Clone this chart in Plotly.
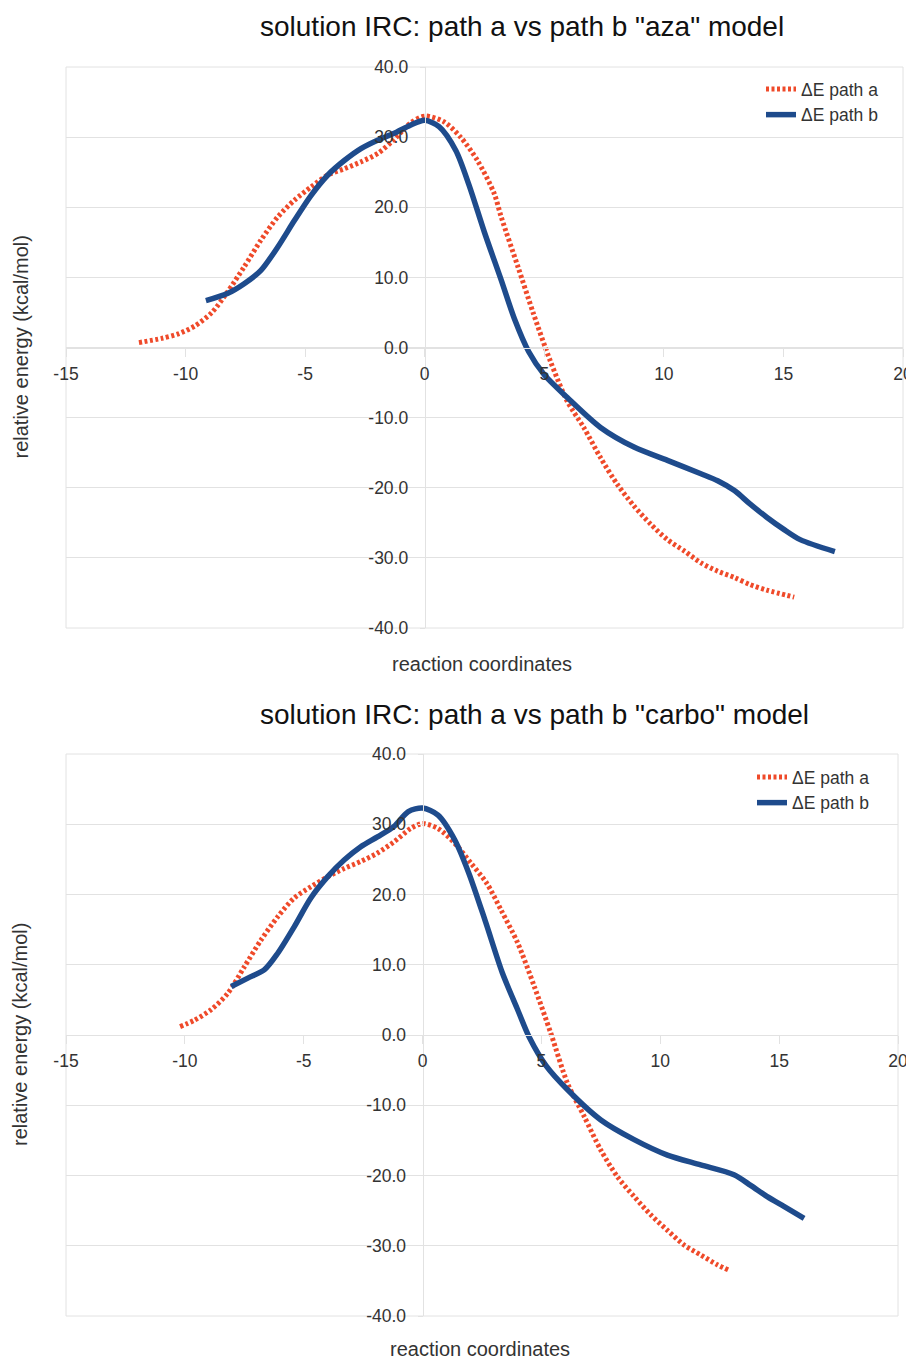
import plotly.graph_objects as go

# ---------------- data ----------------
aza_a_x = [-11.95, -11.0, -10.3, -9.6, -8.9, -8.25, -7.55, -6.85, -6.15, -5.45, -4.75, -4.05, -3.35,
           -2.65, -1.95, -1.3, -0.6, 0.0, 0.8, 1.5, 2.2, 2.9, 3.2, 3.9, 4.55, 5.25, 5.95, 6.65, 7.35,
           8.05, 8.75, 9.45, 10.15, 10.85, 11.55, 12.25, 12.95, 13.6, 14.3, 15.45]
aza_a_y = [0.7, 1.3, 1.95, 3.1, 5.0, 7.9, 11.5, 15.3, 18.6, 21.0, 22.9, 24.6, 25.5,
           26.5, 27.7, 29.6, 32.0, 33.0, 32.2, 30.0, 26.7, 22.0, 18.6, 11.5, 4.8, -1.9, -7.6, -11.4, -15.7,
           -19.5, -22.6, -25.2, -27.4, -29.0, -30.7, -31.9, -32.8, -33.8, -34.6, -35.6]

aza_b_x = [-9.15, -8.25, -7.55, -6.85, -6.15, -5.45, -4.75, -4.05, -3.35, -2.65, -1.95, -1.3, -0.6,
           0.0, 0.6, 1.3, 1.85, 2.5, 3.2, 3.75, 4.35, 5.0, 5.95, 7.35, 8.75, 10.15, 11.55, 12.25,
           12.95, 13.6, 14.3, 15.0, 15.7, 17.15]
aza_b_y = [6.7, 7.7, 9.1, 11.0, 14.3, 18.1, 21.7, 24.6, 26.7, 28.4, 29.6, 30.5, 31.7,
           32.4, 31.5, 28.1, 23.2, 16.4, 9.6, 4.1, -0.6, -3.9, -7.1, -11.4, -14.2, -16.1, -18.0, -19.0,
           -20.4, -22.3, -24.2, -25.9, -27.4, -29.1]

carbo_a_x = [-10.2, -9.6, -8.9, -8.2, -7.5, -6.8, -6.1, -5.4, -4.7, -4.0, -3.3, -2.6, -1.9, -1.2,
             -0.5, 0.0, 0.65, 1.35, 2.05, 2.7, 3.3, 4.0, 4.7, 5.4, 6.1, 6.8, 7.5, 8.2, 8.9, 9.6,
             10.3, 11.0, 11.7, 12.4, 12.9]
carbo_a_y = [1.2, 2.1, 3.6, 5.9, 9.7, 13.5, 16.8, 19.5, 21.1, 22.5, 23.7, 24.7, 25.9, 27.5,
             29.4, 30.1, 29.4, 27.3, 24.4, 21.6, 17.8, 13.1, 6.9, 0.2, -6.9, -11.6, -16.4, -20.2, -23.0, -25.6,
             -27.8, -29.9, -31.3, -32.7, -33.5]

carbo_b_x = [-8.05, -7.35, -6.65, -6.1, -5.4, -4.7, -4.0, -3.3, -2.6, -1.9, -1.2, -0.6, 0.0, 0.65,
             1.35, 1.95, 2.65, 3.35, 4.0, 4.5, 5.2, 6.1, 7.5, 8.9, 10.3, 11.7, 13.1, 13.8, 14.5,
             15.2, 16.05]
carbo_b_y = [6.9, 8.1, 9.3, 11.6, 15.4, 19.5, 22.5, 24.9, 26.8, 28.2, 29.7, 31.8, 32.3, 31.3,
             27.8, 23.0, 16.1, 8.9, 3.6, -0.4, -4.4, -7.8, -12.1, -14.9, -17.1, -18.5, -19.9, -21.4, -23.0,
             -24.4, -26.1]

series_names = ["\u0394E path a", "\u0394E path b"]
titles = ['solution IRC: path a vs path b "aza" model', 'solution IRC: path a vs path b "carbo" model']
x_tickvals = [-15, -10, -5, 0, 5, 10, 15, 20]
x_ticktext = ["-15", "-10", "-5", "0", "5", "10", "15", "20"]
y_tickvals = [-40, -30, -20, -10, 0, 10, 20, 30, 40]
y_ticktext = ["-40.0", "-30.0", "-20.0", "-10.0", "0.0", "10.0", "20.0", "30.0", "40.0"]
x_range = [-15, 20]
y_range = [-40, 40]

# ---------------- style ----------------
RED = "#EF4A2A"
BLUE = "#1E4B8C"
GRID = "#E2E2E2"
TXT = "#333333"
FONT = "Liberation Sans, Arial, sans-serif"
OFF = 8                     # page body margin in the browser
W, H = 914 - OFF, 1361 - OFF


def px_x(v):
    return (v - OFF) / W


def px_y(v):
    return 1 - (v - OFF) / H


panels = [
    dict(ax=(aza_a_x, aza_a_y), bx=(aza_b_x, aza_b_y), px=(66, 903), py=(67, 628),
         title_x=258, xt=(482, 664), leg=(761, 71)),
    dict(ax=(carbo_a_x, carbo_a_y), bx=(carbo_b_x, carbo_b_y), px=(66, 898), py=(754, 1316),
         title_x=258, xt=(480, 1349), leg=(752, 759)),
]

fig = go.Figure()
layout = dict(width=W, height=H, margin=dict(l=0, r=0, t=0, b=0, autoexpand=False),
              paper_bgcolor="white", plot_bgcolor="white",
              font=dict(family=FONT, color=TXT), showlegend=True)
annotations = []
shapes = []

for i, p in enumerate(panels):
    n = "" if i == 0 else str(i + 1)
    xa, ya = "x" + n, "y" + n
    legname = "legend" if i == 0 else "legend2"
    fig.add_trace(go.Scatter(x=p["ax"][0], y=p["ax"][1], mode="lines", name=series_names[0],
                             line=dict(color=RED, width=5, dash="3px,2.5px", shape="spline", smoothing=0.8),
                             xaxis=xa, yaxis=ya, legend=legname))
    fig.add_trace(go.Scatter(x=p["bx"][0], y=p["bx"][1], mode="lines", name=series_names[1],
                             line=dict(color=BLUE, width=5.5, shape="spline", smoothing=0.8),
                             xaxis=xa, yaxis=ya, legend=legname))
    x0, x1 = px_x(p["px"][0]), px_x(p["px"][1])
    y0, y1 = px_y(p["py"][1]), px_y(p["py"][0])
    ypos = y0 + (0 - y_range[0]) / (y_range[1] - y_range[0]) * (y1 - y0)
    xpos = x0 + (0 - x_range[0]) / (x_range[1] - x_range[0]) * (x1 - x0)
    layout["xaxis" + n] = dict(domain=[x0, x1], range=x_range, anchor="free", position=ypos,
                               tickvals=x_tickvals, ticktext=x_ticktext, ticks="outside", ticklen=8,
                               tickcolor=GRID, ticklabelstandoff=2, automargin=False,
                               showgrid=False, zeroline=False, showline=True, linecolor=GRID,
                               tickfont=dict(size=17.5, color=TXT, family=FONT), fixedrange=True)
    layout["yaxis" + n] = dict(domain=[y0, y1], range=y_range, anchor="free", position=xpos,
                               tickvals=y_tickvals, ticktext=y_ticktext, ticks="outside", ticklen=5,
                               tickcolor=GRID, ticklabelstandoff=8, automargin=False,
                               showgrid=True, gridcolor=GRID, zeroline=False,
                               showline=True, linecolor=GRID,
                               tickfont=dict(size=17.5, color=TXT, family=FONT), fixedrange=True)
    shapes.append(dict(type="rect", xref=xa + " domain", yref=ya + " domain", x0=0, x1=1, y0=0, y1=1,
                       line=dict(color=GRID, width=1), layer="below"))
    annotations.append(dict(text=titles[i], xref="paper", yref="paper", x=px_x(p["title_x"]),
                            y=px_y(p["py"][0] - 40),
                            xanchor="left", yanchor="middle", showarrow=False,
                            font=dict(size=28, color="#111111", family=FONT)))
    annotations.append(dict(text="relative energy (kcal/mol)", xref="paper", yref="paper",
                            x=px_x(20), y=(y0 + y1) / 2, textangle=-90, xanchor="center", yanchor="middle",
                            showarrow=False, font=dict(size=20, color=TXT, family=FONT)))
    annotations.append(dict(text="reaction coordinates", xref="paper", yref="paper",
                            x=px_x(p["xt"][0]), y=px_y(p["xt"][1]), xanchor="center", yanchor="middle",
                            showarrow=False, font=dict(size=20, color=TXT, family=FONT)))
    layout[legname] = dict(x=px_x(p["leg"][0]), y=px_y(p["leg"][1]), xanchor="left", yanchor="top",
                           bgcolor="rgba(0,0,0,0)", font=dict(size=17.5, color=TXT, family=FONT),
                           itemwidth=30, tracegroupgap=0)

layout["annotations"] = annotations
layout["shapes"] = shapes
fig.update_layout(**layout)
fig.write_html("out.html")
